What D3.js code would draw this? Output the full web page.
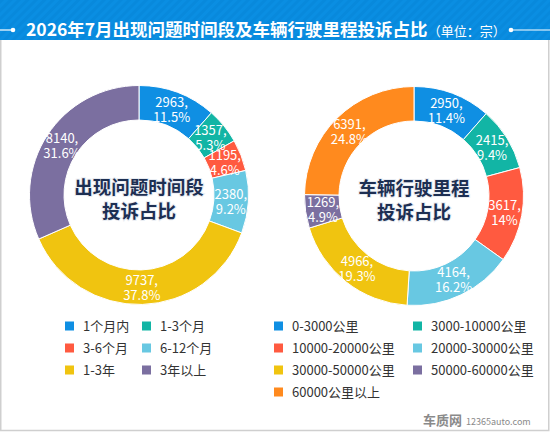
<!DOCTYPE html>
<html><head><meta charset="utf-8">
<script src="https://cdn.jsdelivr.net/npm/d3@7"></script>
<style>
html,body{margin:0;padding:0;background:#fff;}
svg{display:block;font-family:"Noto Sans CJK SC","Noto Sans",sans-serif;}
</style></head>
<body><svg id="c" width="550" height="432"></svg>
<script>
const title = "2026年7月出现问题时间段及车辆行驶里程投诉占比";
const unitText = "（单位：宗）";
const leftCats = ["1个月内","1-3个月","3-6个月","6-12个月","1-3年","3年以上"];
const leftVals = [2963,1357,1195,2380,9737,8140];
const leftPcts = ["11.5%","5.3%","4.6%","9.2%","37.8%","31.6%"];
const leftColors = ["#0f8fe3","#12b5a5","#ff5a40","#68c8e2","#f0c410","#7b6fa0"];
const leftCenter = ["出现问题时间段","投诉占比"];
const rightCats = ["0-3000公里","3000-10000公里","10000-20000公里","20000-30000公里","30000-50000公里","50000-60000公里","60000公里以上"];
const rightVals = [2950,2415,3617,4164,4966,1269,6391];
const rightPcts = ["11.4%","9.4%","14%","16.2%","19.3%","4.9%","24.8%"];
const rightColors = ["#0f8fe3","#12b5a5","#ff5a40","#68c8e2","#f0c410","#7b6fa0","#ff8a1e"];
const rightCenter = ["车辆行驶里程","投诉占比"];

const svg = d3.select("#c");
const defs = svg.append("defs");
const pat = defs.append("pattern").attr("id","stripe").attr("width",6).attr("height",6)
  .attr("patternUnits","userSpaceOnUse").attr("patternTransform","rotate(45)");
pat.append("rect").attr("width",6).attr("height",6).attr("fill","#0a8ee2");
pat.append("rect").attr("width",3).attr("height",6).attr("fill","#0889dc");

// panel border
svg.append("rect").attr("x",0.75).attr("y",0).attr("width",548).attr("height",430.5)
  .attr("fill","#fff").attr("stroke","#cfcfcf").attr("stroke-width",1.5);
// header
svg.append("rect").attr("x",0).attr("y",0).attr("width",550).attr("height",40).attr("fill","url(#stripe)");
svg.append("line").attr("x1",0).attr("x2",13).attr("y1",30).attr("y2",30).attr("stroke","#fff").attr("stroke-width",1.2);
svg.append("circle").attr("cx",13).attr("cy",30).attr("r",2.3).attr("fill","#fff");
svg.append("line").attr("x1",511).attr("x2",550).attr("y1",30).attr("y2",30).attr("stroke","#fff").attr("stroke-width",1.2);
svg.append("circle").attr("cx",511).attr("cy",30).attr("r",2.3).attr("fill","#fff");
const tt = svg.append("text").attr("x",26).attr("y",36).attr("fill","#fff");
tt.append("tspan").attr("font-size",17.5).attr("font-weight","bold").text(title);
tt.append("tspan").attr("font-size",13).attr("dx",0).text(unitText);

function donut(cx, cy, vals, pcts, colors, center){
  const g = svg.append("g").attr("transform",`translate(${cx},${cy})`);
  const pie = d3.pie().sort(null).value(d=>d)(vals);
  const arc = d3.arc().innerRadius(75).outerRadius(109.5);
  const lab = d3.arc().innerRadius(92).outerRadius(92);
  g.selectAll("path").data(pie).join("path").attr("d",arc)
    .attr("fill",(d,i)=>colors[i]).attr("stroke","#fff").attr("stroke-width",1);
  const t = g.selectAll("text.l").data(pie).join("text").attr("class","l")
    .attr("transform",d=>`translate(${lab.centroid(d)})`)
    .attr("text-anchor","middle").attr("fill","#fff").attr("font-size",13);
  t.append("tspan").attr("x",0).attr("y",-2).text(d=>vals[d.index]+",");
  t.append("tspan").attr("x",0).attr("y",13).text(d=>pcts[d.index]);
  center.forEach((s,i)=>{
    g.append("text").attr("text-anchor","middle").attr("y",-1+i*24)
      .attr("font-size",18.5).attr("font-weight","bold").attr("fill","#1d2f52")
      .attr("stroke","#e8ecf2").attr("stroke-width",2).attr("paint-order","stroke")
      .text(s);
  });
}
donut(139,195,leftVals,leftPcts,leftColors,leftCenter);
donut(414,196,rightVals,rightPcts,rightColors,rightCenter);

function legend(x0, colX, cats, colors){
  cats.forEach((c,i)=>{
    const x = x0 + (i%2)*colX, y = 326 + Math.floor(i/2)*22;
    svg.append("rect").attr("x",x).attr("y",y-4.5).attr("width",9).attr("height",9).attr("fill",colors[i]);
    svg.append("text").attr("x",x+18).attr("y",y+5).attr("font-size",13).attr("fill","#333").text(c);
  });
}
legend(65,77,leftCats,leftColors);
legend(274,139,rightCats,rightColors);

// watermark
svg.append("text").attr("x",423).attr("y",425).attr("font-size",13).attr("font-weight","bold").attr("fill","#8a8a8a").text("车质网");
svg.append("text").attr("x",466).attr("y",425).attr("font-size",9).attr("fill","#8a8a8a").text("12365auto.com");
</script></body></html>
